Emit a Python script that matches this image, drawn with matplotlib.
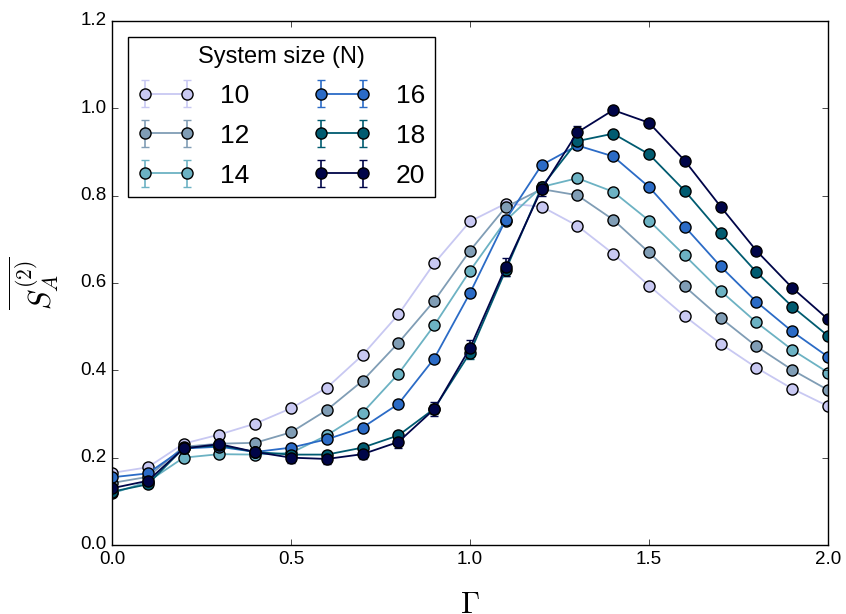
import numpy as np
import matplotlib
matplotlib.use('Agg')
import matplotlib.pyplot as plt

plt.style.use('classic')
plt.rcParams['figure.facecolor'] = 'white'
plt.rcParams['savefig.facecolor'] = 'white'
plt.rcParams['font.family'] = ['Liberation Sans', 'DejaVu Sans']
plt.rcParams['mathtext.fontset'] = 'cm'

gamma = [0.0, 0.1, 0.2, 0.3, 0.4, 0.5, 0.6, 0.7, 0.8, 0.9, 1.0,
         1.1, 1.2, 1.3, 1.4, 1.5, 1.6, 1.7, 1.8, 1.9, 2.0]
sizes = [10, 12, 14, 16, 18, 20]

s_10 = [0.165, 0.178, 0.232, 0.253, 0.278, 0.313, 0.360, 0.435, 0.528, 0.645, 0.741,
        0.782, 0.775, 0.731, 0.667, 0.594, 0.524, 0.461, 0.406, 0.358, 0.318]
s_12 = [0.142, 0.156, 0.225, 0.232, 0.234, 0.258, 0.309, 0.376, 0.463, 0.559, 0.674,
        0.774, 0.815, 0.801, 0.745, 0.670, 0.592, 0.520, 0.455, 0.401, 0.355]
s_14 = [0.118, 0.145, 0.200, 0.208, 0.207, 0.211, 0.251, 0.303, 0.392, 0.503, 0.628,
        0.743, 0.820, 0.840, 0.809, 0.743, 0.663, 0.582, 0.510, 0.447, 0.395]
s_16 = [0.155, 0.164, 0.221, 0.225, 0.213, 0.223, 0.242, 0.269, 0.323, 0.427, 0.577,
        0.745, 0.870, 0.915, 0.890, 0.820, 0.729, 0.638, 0.557, 0.489, 0.431]
s_18 = [0.122, 0.139, 0.222, 0.228, 0.213, 0.207, 0.207, 0.223, 0.251, 0.312, 0.440,
        0.630, 0.820, 0.925, 0.942, 0.895, 0.811, 0.715, 0.625, 0.546, 0.479]
s_20 = [0.130, 0.147, 0.221, 0.231, 0.213, 0.200, 0.197, 0.208, 0.236, 0.311, 0.451,
        0.637, 0.815, 0.945, 0.996, 0.967, 0.880, 0.775, 0.674, 0.589, 0.517]

err_10 = [0.004] * 21
err_12 = [0.004] * 21
err_14 = [0.004] * 21
err_16 = [0.005, 0.005, 0.006, 0.006, 0.006, 0.006, 0.006, 0.007, 0.008, 0.009, 0.010,
          0.010, 0.008, 0.007, 0.006, 0.005, 0.005, 0.005, 0.004, 0.004, 0.004]
err_18 = [0.005, 0.005, 0.007, 0.007, 0.007, 0.008, 0.008, 0.009, 0.010, 0.012, 0.013,
          0.014, 0.010, 0.008, 0.006, 0.005, 0.005, 0.005, 0.004, 0.004, 0.004]
err_20 = [0.006, 0.006, 0.010, 0.012, 0.010, 0.012, 0.012, 0.012, 0.014, 0.016, 0.018,
          0.020, 0.016, 0.014, 0.008, 0.006, 0.005, 0.005, 0.004, 0.004, 0.004]

colors = ['#c8c8f2', '#809db5', '#6cb2c3', '#2b6bc6', '#005b70', '#000548']

series = [s_10, s_12, s_14, s_16, s_18, s_20]
errors = [err_10, err_12, err_14, err_16, err_18, err_20]

fig = plt.figure(figsize=(8.46, 6.14), dpi=100)
ax = fig.add_axes([0.1324, 0.1124, 0.9787 - 0.1324, 0.9658 - 0.1124])

for n, y, e, c in zip(sizes, series, errors, colors):
    ax.errorbar(gamma, y, yerr=e, color=c, ecolor=c, linewidth=1.3,
                marker='o', markersize=8, markerfacecolor=c,
                markeredgecolor='black', markeredgewidth=1.0,
                capsize=3, elinewidth=1.2, label=str(n))

ax.set_xlim(0, 2.0)
ax.set_ylim(0, 1.2)
ax.set_xticks([0.0, 0.5, 1.0, 1.5, 2.0])
ax.set_yticks([0.0, 0.2, 0.4, 0.6, 0.8, 1.0, 1.2])
ax.tick_params(labelsize=13.5, direction='in', top=True, right=True)

# the Gamma label sits at the lower edge of the figure, partly clipped
ax.set_xlabel(r'$\Gamma$', fontsize=22, labelpad=16)
ax.set_ylabel(r'$\overline{S_A^{(2)}}$', fontsize=22, labelpad=13)

leg = ax.legend(loc='upper left', ncol=2, numpoints=2, fontsize=19,
                title='System size (N)', handlelength=2.2,
                columnspacing=2.4, borderaxespad=0.6, handletextpad=0.95,
                labelspacing=0.6, borderpad=0.35)
leg.get_title().set_fontsize(17)
leg.get_frame().set_edgecolor('black')

fig.savefig('out.png', dpi=100)
